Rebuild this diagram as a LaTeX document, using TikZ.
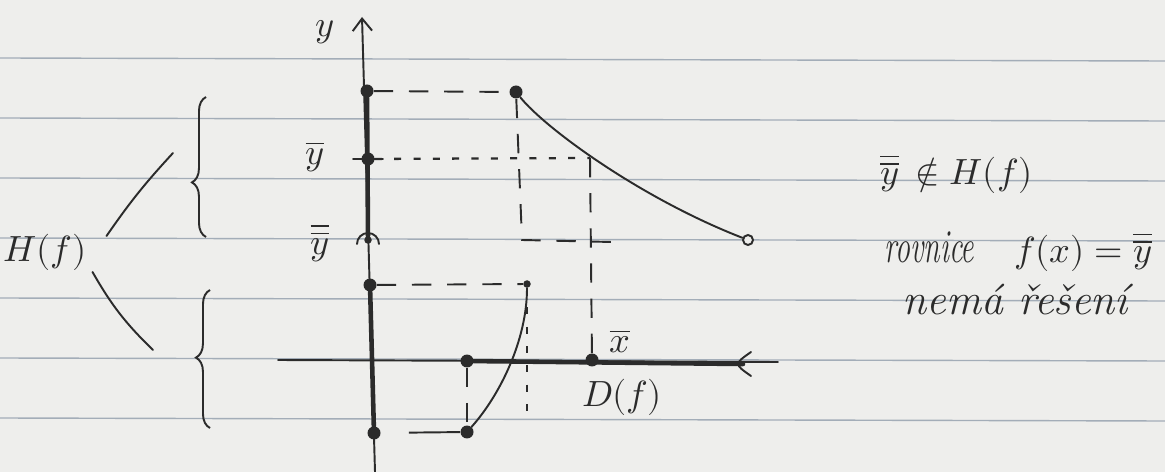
\documentclass[tikz,border=0pt]{standalone}
\usepackage{graphicx}
\usepackage{unicode-math}
\usetikzlibrary{decorations.pathreplacing,arrows.meta}
\definecolor{paper}{HTML}{EEEEEC}
\definecolor{rule}{HTML}{A3ADB8}
\definecolor{ink}{HTML}{2B2B2B}

\begin{document}
\begin{tikzpicture}[
    x=0.02cm, y=-0.02cm,
    ink line/.style={draw=ink, line width=1.1pt, line cap=round},
    heavy line/.style={draw=ink, line width=2.6pt, line cap=round},
    guide/.style={draw=ink, line width=1.1pt, dash pattern=on 11pt off 9pt},
    dotted guide/.style={draw=ink, line width=1.3pt, dash pattern=on 4pt off 7pt},
    dot/.style={circle, fill=ink, inner sep=0pt, minimum size=0.26cm},
    small dot/.style={circle, fill=ink, inner sep=0pt, minimum size=0.15cm},
    hole/.style={circle, draw=ink, fill=paper, line width=1.1pt,
                 inner sep=0pt, minimum size=0.2cm},
    lbl/.style={font=\huge, text=ink},
    note/.style={font=\huge, text=ink, anchor=base west, inner sep=0pt},
    brace/.style={draw=ink, line width=1.1pt, decorate,
                  decoration={brace, amplitude=8pt}},
]

% Paper
\fill[paper] (0,0) rectangle (1165,472);
\useasboundingbox (0,0) rectangle (1165,472);
\foreach \r in {58,118,...,418}
    \draw[rule, line width=0.8pt] (0,\r) -- (1165,\r+3);

% Points on the y axis
\node[dot]       (a1) at (367,91)  {};
\node[dot]       (a2) at (368,159) {};
\node[small dot] (a3) at (368,240) {};
\node[dot]       (a4) at (370,285) {};
\node[dot]       (a5) at (374,433) {};
\coordinate (ytop) at (362,17);
\coordinate (ybot) at (375,472);

% Points of the graph
\node[dot]       (p1) at (516,92)  {};
\node[hole]      (p2) at (748,240) {};
\node[small dot] (q1) at (527,284) {};
\node[dot]       (q2) at (467,432) {};
\coordinate (c1) at (590,158);

% Points on the x axis
\coordinate (xl) at (278,360);
\coordinate (xr) at (778,362);
\node[dot] (b1) at (467,361) {};
\node[dot] (b2) at (592,360) {};
\coordinate (b3) at (743,364);

% Guides
\coordinate (d1) at (522,240);
\coordinate (d2) at (612,242);
\coordinate (d3) at (527,420);
\draw[guide] (a1) -- (p1);
\draw[dotted guide] (a2) -- (c1);
\draw[guide] (c1) -- (b2);
\draw[guide] (p1) -- (d1) -- (d2);
\draw[guide] (a4) -- (q1);
\draw[dotted guide] (q1) -- (d3);
\draw[guide, dash pattern=on 0pt off 16pt on 40pt off 6pt] (a5) -- (q2);
\draw[guide] (b1) -- (q2);

% Axes
\draw[ink line, -{Straight Barb[length=7pt, width=11pt]}] (ybot) -- (ytop);
\draw[ink line] (xl) -- (xr);
\draw[heavy line] (a1) -- (a3);
\draw[heavy line] (a4) -- (a5);
\draw[heavy line] (b1) -- (b3);
\draw[ink line] ([shift={(-15,0)}]a2.center) -- ([shift={(15,0)}]a2.center);
\draw[ink line] ([shift={(-11,4)}]a3.center)
    arc[start angle=180, end angle=360, radius=11];
\draw[ink line] ([shift={(8,-12)}]b3) .. controls ([shift={(-9,0)}]b3)
    .. ([shift={(8,12)}]b3);

% Graph of f
\draw[ink line] (p1) .. controls (545,128) and (640,198) .. (p2);
\draw[ink line] (q1) .. controls (527,340) and (500,395) .. (q2);

% Labels
\node[lbl] (ylbl)  at (325,32)  {$y$};
\node[lbl] (ybar)  at (315,157) {$\overline{y}$};
\node[lbl] (ybbar) at (320,243) {$\overline{\overline{y}}$};
\node[lbl] (xbar)  at (620,341) {$\overline{x}$};
\node[lbl] (df)    at (622,397) {$D(f)$};

% H(f) and its two parts
\node[lbl] (hf) at (45,252) {$H(f)$};
\draw[brace, decoration={aspect=0.39}] (206,237) -- (206,97);
\draw[brace, decoration={aspect=0.51}] (210,428) -- (210,290);
\coordinate (ub) at (173,153);
\coordinate (lb) at (153,350);
\draw[ink line] ([shift={(14,-16)}]hf.east) to[bend left=4] (ub);
\draw[ink line] ([shift={(0,20)}]hf.east) to[bend right=8] (lb);

% Notes
\node[note] (notin) at (880,185) {$\overline{\overline{y}}\,∉ H(f)$};
\node[note] (eqn)   at (884,263)
    {\scalebox{0.82}[1.3]{\huge\itshape rovnice}\hspace{0.8cm}%
     $f(x)=\overline{\overline{y}}$};
\node[note, font=\Huge] (nosol) at (902,315) {\itshape nemá řešení};

\end{tikzpicture}
\end{document}
